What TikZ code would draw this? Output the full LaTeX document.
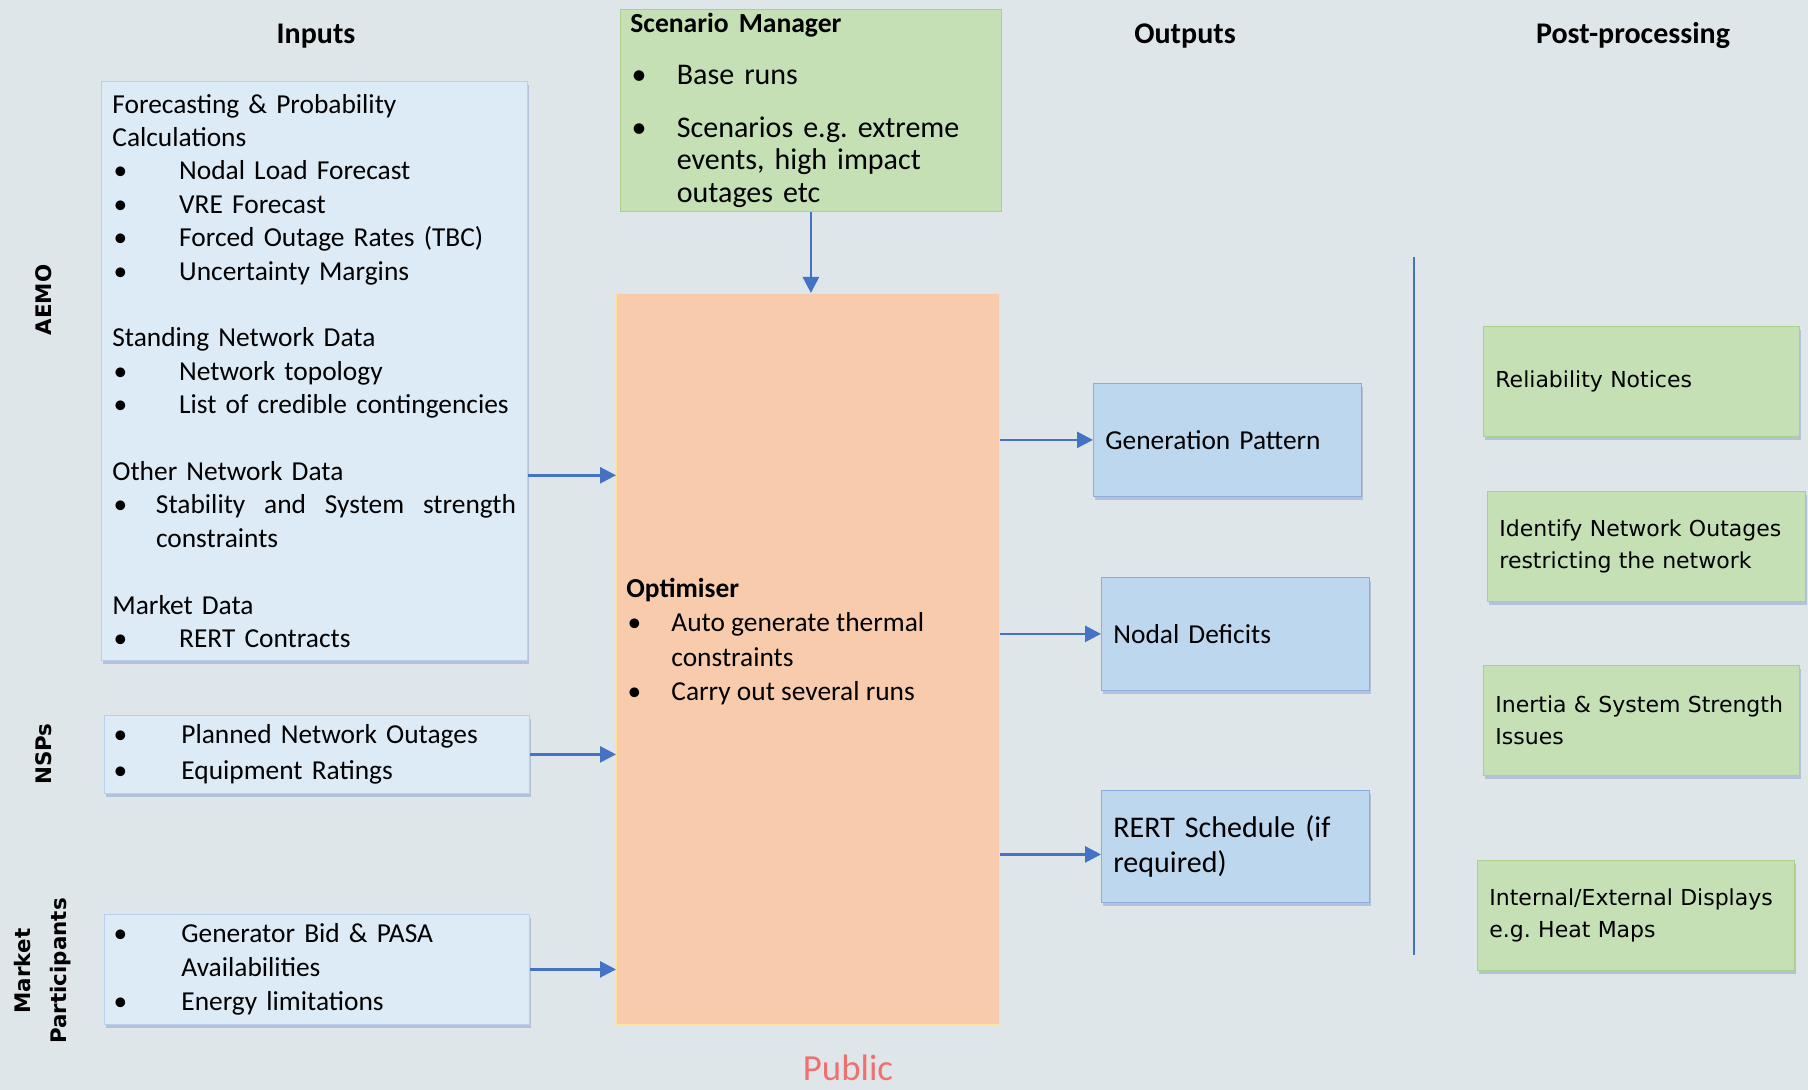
\documentclass[tikz,border=0pt]{standalone}
\usepackage{fontspec}
\setmainfont{Carlito}
\newfontfamily\postfont{DejaVu Sans}
\usetikzlibrary{positioning}
\usetikzlibrary{arrows.meta}
\usetikzlibrary{shadows}

\definecolor{bgcol}{RGB}{223,230,233}
\definecolor{infill}{RGB}{221,235,247}
\definecolor{inborder}{RGB}{184,208,238}
\definecolor{greenfill}{RGB}{197,224,180}
\definecolor{greenborder}{RGB}{169,209,142}
\definecolor{peachfill}{RGB}{248,203,173}
\definecolor{peachborder}{RGB}{255,226,150}
\definecolor{outfill}{RGB}{189,215,238}
\definecolor{outborder}{RGB}{143,170,220}
\definecolor{arrowblue}{RGB}{68,114,196}
\definecolor{publicred}{RGB}{240,112,112}
\definecolor{shadowcol}{RGB}{150,170,205}

\newcommand{\itemdot}[1]{\hspace*{0.6pt}\makebox[#1][l]{\textbullet}}
\frenchspacing

\begin{document}
\begin{tikzpicture}[
			x=0.5pt, y=-0.5pt,
			header/.style={font=\fontsize{15}{18}\selectfont\bfseries},
			side/.style={font=\postfont\bfseries\fontsize{10.7}{18}\selectfont, rotate=90, align=center},
			boxshadow/.style={drop shadow={shadow xshift=0.6pt, shadow yshift=-1.6pt, fill=shadowcol, opacity=0.6}},
			inbox/.style={boxshadow, draw=inborder, fill=infill, anchor=north west, align=left, inner ysep=2pt, inner xsep=4pt, font=\fontsize{13.7}{16.7}\selectfont},
			greenbox/.style={draw=greenborder, fill=greenfill, anchor=north west, align=left, inner ysep=2pt},
			postbox/.style={greenbox, boxshadow, inner xsep=6pt, text width=146pt, minimum width=158pt, minimum height=55pt, font=\postfont\fontsize{11}{16.1}\selectfont},
			optbox/.style={draw=peachborder, fill=peachfill, anchor=north west},
			outbox/.style={boxshadow, draw=outborder, fill=outfill, anchor=north west, align=left, inner xsep=6pt, text width=122pt, minimum width=134pt, minimum height=56.5pt, font=\fontsize{13.7}{17.9}\selectfont},
			flow/.style={draw=arrowblue, line width=1.3pt, -{Triangle[length=8pt, width=8pt]}}
			]
			
			% Background
			\fill[bgcol] (0,0) rectangle (1808,1090);
			\useasboundingbox (0,0) rectangle (1808,1090);
			
			% Column headers
			\node[header] (inputs) at (316,36) {Inputs};
			\node[header] (outputs) at (1185,36) {Outputs};
			\node[header] (postproc) at (1633,36) {Post-processing};
			
			% Side labels
			\node[side] (aemolabel) at (44,300) {AEMO};
			\node[side] (nsplabel) at (44,754) {NSPs};
			\node[side] (mplabel) at (43,971) {Market\\ Participants};
			
			% Input boxes
			\node[inbox, inner xsep=5.5pt, text width=202pt, minimum width=213pt, minimum height=289.5pt] (aemo) at (101,81)
			{Forecasting \& Probability\\ Calculations\\
			 \itemdot{32.8pt}Nodal Load Forecast\\
			 \itemdot{32.8pt}VRE Forecast\\
			 \itemdot{32.8pt}Forced Outage Rates (TBC)\\
			 \itemdot{32.8pt}Uncertainty Margins\\[16.7pt]
			 Standing Network Data\\
			 \itemdot{32.8pt}Network topology\\
			 \itemdot{32.8pt}List of credible contingencies\\[16.7pt]
			 Other Network Data\\
			 \itemdot{21.2pt}\makebox[180pt][l]{Stability\hfill and\hfill System\hfill strength}\\
			 \hspace*{21.8pt}constraints\\[16.7pt]
			 Market Data\\
			 \itemdot{32.8pt}RERT Contracts};
			\node[inbox, text width=204.5pt, minimum width=212.5pt, minimum height=39pt, font=\fontsize{13.7}{17.9}\selectfont] (nsp) at (104,715)
			{\itemdot{33.9pt}Planned Network Outages\\
			 \itemdot{33.9pt}Equipment Ratings};
			\node[inbox, text width=204.5pt, minimum width=212.5pt, minimum height=55pt, font=\fontsize{13.7}{17}\selectfont] (mp) at (104,914)
			{\itemdot{33.9pt}Generator Bid \& PASA\\
			 \hspace*{34.5pt}Availabilities\\
			 \itemdot{33.9pt}Energy limitations};
			
			% Scenario manager
			\node[greenbox, inner xsep=5pt, text width=180.5pt, minimum width=190.5pt, minimum height=101pt, font=\fontsize{15}{16.1}\selectfont] (scenario) at (620,9)
			{{\fontsize{13.8}{16.1}\selectfont\bfseries Scenario Manager}\\[9.8pt]
			 \itemdot{22.65pt}Base runs\\[10.4pt]
			 \itemdot{22.65pt}Scenarios e.g. extreme\\
			 \hspace*{23.25pt}events, high impact\\
			 \hspace*{23.25pt}outages etc};
			
			% Optimiser
			\node[optbox, minimum width=191.5pt, minimum height=365.5pt] (optimiser) at (616,293) {};
			\node[anchor=west, align=left, inner sep=0pt, font=\fontsize{13.7}{17.3}\selectfont] (optlabel) at ([xshift=5pt, yshift=8.7pt]optimiser.west)
			{{\bfseries Optimiser}\\
			 \itemdot{21.9pt}Auto generate thermal\\
			 \hspace*{22.5pt}constraints\\
			 \itemdot{21.9pt}Carry out several runs};
			
			% Output boxes
			\node[outbox] (genpat) at (1093,383) {Generation Pattern};
			\node[outbox] (nodal) at (1101,577) {Nodal Deficits};
			\node[outbox, minimum height=56pt, font=\fontsize{15}{17.9}\selectfont] (rert) at (1101,790) {RERT Schedule (if\\ required)};
			
			% Separator
			\coordinate (septop) at (1414,257);
			\coordinate (sepbot) at (1414,955);
			\draw[arrowblue, line width=1pt] (septop) -- (sepbot);
			
			% Post-processing boxes
			\node[postbox] (notices) at (1483,326) {Reliability Notices};
			\node[postbox, minimum width=159pt, text width=147pt] (identify) at (1487,491) {Identify Network Outages\\ restricting the network};
			\node[postbox] (inertia) at (1483,665) {Inertia \& System Strength\\ Issues};
			\node[postbox, minimum width=158.5pt, text width=146.5pt] (displays) at (1477,860) {Internal/External Displays\\ e.g. Heat Maps};
			
			% Footer
			\node[font=\fontsize{18.4}{22}\selectfont, text=publicred] (public) at (848,1068) {Public};
			
			% Connectors
			\draw[flow] (scenario.south) -- (scenario.south |- optimiser.north);
			\draw[flow] ([yshift=-52.2pt]aemo.east) -- ([yshift=-52.2pt]aemo.east -| optimiser.west);
			\draw[flow] (nsp.east) -- (nsp.east -| optimiser.west);
			\draw[flow] (mp.east) -- (mp.east -| optimiser.west);
			\draw[flow] (genpat.west -| optimiser.east) -- (genpat.west);
			\draw[flow] (nodal.west -| optimiser.east) -- (nodal.west);
			\draw[flow] ([yshift=-4pt]rert.west -| optimiser.east) -- ([yshift=-4pt]rert.west);
			
		\end{tikzpicture}
\end{document}
